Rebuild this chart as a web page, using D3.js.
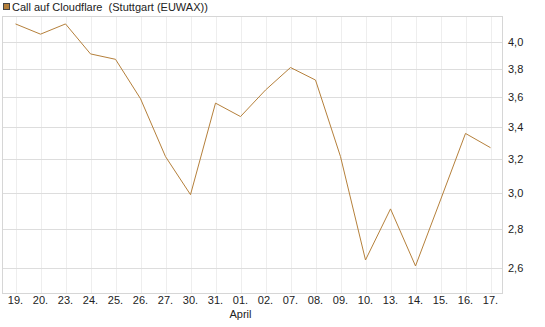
<!DOCTYPE html>
<html>
<head>
    <meta charset="utf-8">
    <title>Call auf Cloudflare</title>
    <script src="https://d3js.org/d3.v7.min.js"></script>
    <style>
        body { margin: 0; background: #fff; }
        text { font-family: "Liberation Sans", Arial, sans-serif; font-size: 11px; fill: #222; }
        .grid-x line { stroke: #eeeeee; }
        .grid-y line { stroke: #dddddd; }
        .line { fill: none; stroke: #b5803b; stroke-width: 1; }
    </style>
</head>
<body>
    <div id="chart"></div>
    <script>
        // Daten
        const dates = ["19.", "20.", "23.", "24.", "25.", "26.", "27.", "30.", "31.", "01.",
                       "02.", "07.", "08.", "09.", "10.", "13.", "14.", "15.", "16.", "17."];
        const values = [4.14, 4.06, 4.14, 3.91, 3.87, 3.59, 3.215, 2.99, 3.56, 3.47,
                        3.65, 3.81, 3.72, 3.215, 2.64, 2.91, 2.61, 2.96, 3.36, 3.27];
        const yTicks = [2.6, 2.8, 3.0, 3.2, 3.4, 3.6, 3.8, 4.0];
        const monthLabel = {index: 9, text: "April"};

        const W = 545, H = 327;
        const plot = {left: 3, right: 503, top: 16, bottom: 293};

        const svg = d3.select("#chart")
            .append("svg")
            .attr("width", W)
            .attr("height", H);

        const x = d3.scalePoint()
            .domain(d3.range(dates.length))
            .range([plot.left, plot.right])
            .padding(0.5);

        const y = d3.scaleLog()
            .domain([2.479, 4.203])
            .range([plot.bottom, plot.top]);

        // Gitter vertikal
        svg.append("g")
            .attr("class", "grid-x")
            .selectAll("line")
            .data(d3.range(dates.length))
            .enter()
            .append("line")
            .attr("x1", d => Math.round(x(d)) + 0.5)
            .attr("x2", d => Math.round(x(d)) + 0.5)
            .attr("y1", plot.top)
            .attr("y2", plot.bottom);

        // Gitter horizontal
        svg.append("g")
            .attr("class", "grid-y")
            .selectAll("line")
            .data(yTicks)
            .enter()
            .append("line")
            .attr("x1", plot.left)
            .attr("x2", plot.right)
            .attr("y1", d => Math.round(y(d)) + 0.5)
            .attr("y2", d => Math.round(y(d)) + 0.5);

        // Rahmen
        svg.append("rect")
            .attr("x", plot.left - 0.5)
            .attr("y", plot.top + 0.5)
            .attr("width", plot.right - plot.left)
            .attr("height", plot.bottom - plot.top)
            .attr("fill", "none")
            .attr("stroke", "#d6d6d6");

        // Y-Achse rechts
        svg.append("g")
            .selectAll("text")
            .data(yTicks)
            .enter()
            .append("text")
            .attr("x", plot.right + 5)
            .attr("y", d => y(d) + 4)
            .text(d => d3.format(".1f")(d).replace(".", ","));

        // X-Achse
        svg.append("g")
            .selectAll("text")
            .data(dates)
            .enter()
            .append("text")
            .attr("x", (d, i) => x(i))
            .attr("y", 304)
            .attr("text-anchor", "middle")
            .text(d => d);

        svg.append("text")
            .attr("x", x(monthLabel.index))
            .attr("y", 318)
            .attr("text-anchor", "middle")
            .text(monthLabel.text);

        // Linie
        const line = d3.line()
            .x((d, i) => x(i))
            .y(d => y(d));

        svg.append("path")
            .datum(values)
            .attr("class", "line")
            .attr("d", line);

        // Legende
        svg.append("rect")
            .attr("x", 3.5)
            .attr("y", 3.5)
            .attr("width", 6)
            .attr("height", 6)
            .attr("fill", "#b5803b")
            .attr("stroke", "#444");

        svg.append("text")
            .attr("x", 12)
            .attr("y", 10.5)
            .text("Call auf Cloudflare  (Stuttgart (EUWAX))")
            .style("white-space", "pre");
    </script>
</body>
</html>
